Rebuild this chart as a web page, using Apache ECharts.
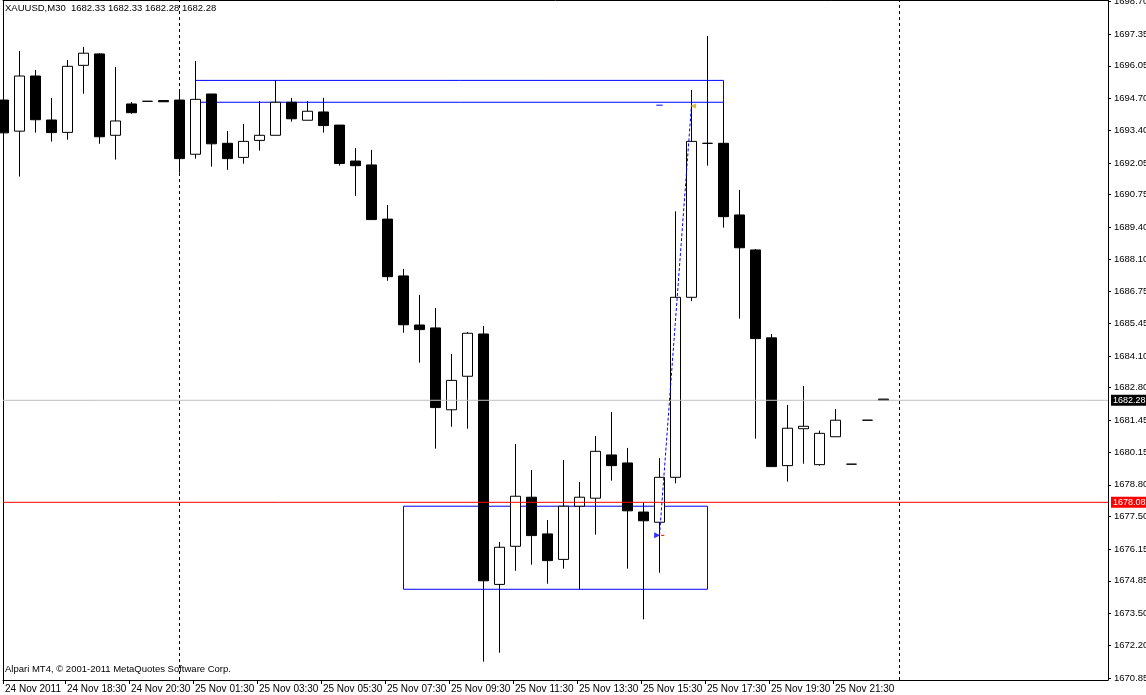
<!DOCTYPE html>
<html>
<head>
<meta charset="utf-8">
<script src="https://cdn.jsdelivr.net/npm/echarts@6/dist/echarts.min.js"></script>
<style>
html,body{margin:0;padding:0;background:#fff;}
#c{width:1146px;height:695px;}
</style>
</head>
<body>
<div id="c"></div>
<script>
// ---- data (XAUUSD M30) ----
const opens = [1694.64,1693.36,1695.63,1693.82,1693.31,1696.07,1696.54,1693.19,1694.48,1694.59,
  1694.62,1694.64,1692.41,1694.89,1692.86,1692.28,1692.98,1693.19,1694.55,1693.81,
  1694.15,1693.61,1692.13,1691.97,1689.74,1687.40,1685.38,1685.26,1681.89,1683.27,
  1685.01,1674.70,1676.27,1678.29,1676.78,1675.73,1677.92,1678.25,1680.03,1679.70,
  1677.68,1677.26,1679.11,1686.52,1692.86,1692.86,1689.91,1688.47,1684.85,1679.59,
  1681.11,1679.63,1680.78,1679.65,1681.46,1682.33];
const closes = [1693.29,1695.63,1693.83,1693.30,1696.03,1696.57,1693.13,1693.78,1694.12,1694.59,
  1694.57,1692.23,1694.67,1692.84,1692.23,1692.94,1693.19,1694.55,1693.87,1694.18,
  1693.59,1692.03,1691.94,1689.72,1687.37,1685.39,1685.19,1681.98,1683.10,1685.04,
  1674.85,1676.23,1678.33,1676.71,1675.68,1677.92,1678.29,1680.18,1679.59,1677.73,
  1677.32,1679.11,1686.52,1692.94,1692.86,1689.84,1688.56,1684.82,1679.55,1681.13,
  1681.21,1680.92,1681.46,1679.65,1681.46,1682.28];
const lows = [1693.04,1691.49,1693.30,1692.93,1693.01,1694.90,1692.84,1692.19,1694.08,1694.59,
  1694.57,1691.65,1692.23,1691.90,1691.77,1692.02,1692.56,1693.19,1693.75,1693.81,
  1693.30,1691.94,1690.70,1689.72,1687.20,1685.06,1683.83,1680.29,1681.19,1681.11,
  1671.52,1671.89,1675.26,1675.51,1674.73,1675.35,1674.50,1676.75,1678.97,1675.35,
  1673.26,1675.18,1678.86,1686.36,1691.94,1689.39,1685.64,1680.70,1679.55,1678.93,
  1679.67,1679.59,1680.78,1679.65,1681.46,1682.28];
const highs = [1695.22,1696.66,1695.88,1694.73,1696.29,1696.83,1696.57,1696.00,1694.56,1694.59,
  1694.62,1694.97,1696.25,1694.89,1693.37,1693.66,1694.60,1695.45,1694.73,1694.60,
  1694.73,1693.61,1692.66,1692.59,1690.32,1687.69,1686.62,1686.08,1684.19,1685.09,
  1685.34,1676.45,1680.48,1679.41,1677.35,1679.82,1678.92,1680.81,1681.80,1680.32,
  1678.08,1679.90,1690.06,1695.06,1697.28,1694.55,1690.94,1688.51,1685.01,1682.09,
  1682.87,1681.03,1681.92,1679.65,1681.46,1682.33];

const tickBars = [0,4,8,12,16,20,24,28,32,36,40,44,48,52];
const tickLabels = ['24 Nov 2011','24 Nov 18:30','24 Nov 20:30','25 Nov 01:30','25 Nov 03:30',
  '25 Nov 05:30','25 Nov 07:30','25 Nov 09:30','25 Nov 11:30','25 Nov 13:30',
  '25 Nov 15:30','25 Nov 17:30','25 Nov 19:30','25 Nov 21:30'];
const priceTicks = [1698.70,1697.35,1696.05,1694.70,1693.40,1692.05,1690.75,1689.40,1688.10,
  1686.75,1685.45,1684.10,1682.80,1681.45,1680.15,1678.80,1677.50,1676.15,1674.85,
  1673.50,1672.20,1670.85];

const bidPrice = 1682.28;
const levelPrice = 1678.08;
const separators = [11, 56];
const upperBox = [[12, 1695.45], [45, 1694.55]];
const lowerBox = [[25, 1677.92], [44, 1674.50]];
const tradeLine = [[41, 1676.72], [43, 1694.44]];
const blueDash = [[40.8, 1694.43], [41.2, 1694.43]];
const redDash = [[41.1, 1676.72], [41.3, 1676.72]];
const openArrow = [[40.85, 1676.72]];
const closeArrow = [[43.1, 1694.40]];
const titleText = 'XAUUSD,M30  1682.33 1682.33 1682.28 1682.28';
const copyText = 'Alpari MT4, \u00a9 2001-2011 MetaQuotes Software Corp.';

// ---- chart ----
const X0 = -0.03125;
const XMAX = X0 + 1105 / 16;
const YMIN = 1670.765, YMAX = 1698.76;
const FONT = 'Liberation Sans';
const candles = opens.map((o, i) => [i, o, closes[i], lows[i], highs[i]]);
const tickPos = tickBars.map(b => Math.max(b - 0.16, X0 + 0.001));

function priceLine(price, color, boxColor) {
  return {
    type: 'line', data: [[X0, price], [XMAX, price]], symbol: 'none', silent: true, z: 4,
    lineStyle: {color: color, width: 1, type: 'solid'},
    endLabel: {show: true, formatter: price.toFixed(2), distance: 3, backgroundColor: boxColor,
      color: '#fff', fontSize: 9, fontFamily: FONT, padding: [1, 4, 1, 2], lineHeight: 9}
  };
}

const chart = echarts.init(document.getElementById('c'), null, {renderer: 'canvas'});
const hidden = {axisLabel: {show: false}, axisTick: {show: false}, splitLine: {show: false}};
chart.setOption({
  animation: false,
  backgroundColor: '#ffffff',
  grid: {left: 3, right: 38, top: 0, bottom: 15, outerBoundsMode: 'none', containLabel: false},
  xAxis: [{
    type: 'value', min: X0, max: XMAX, position: 'bottom',
    axisLine: {show: true, onZero: false, lineStyle: {color: '#000', width: 1}},
    splitLine: {show: false},
    axisTick: {show: true, length: 4, customValues: tickPos, lineStyle: {color: '#000'}},
    axisLabel: {
      customValues: tickPos,
      formatter: v => tickLabels[tickBars.indexOf(Math.round(v))] || '',
      align: 'left', padding: [0, 0, 0, 2], margin: 4,
      fontSize: 10, fontFamily: FONT, color: '#000'
    }
  }, Object.assign({
    type: 'value', min: X0, max: XMAX, position: 'top',
    axisLine: {show: true, onZero: false, lineStyle: {color: '#000', width: 1}}
  }, hidden)],
  yAxis: [{
    type: 'value', min: YMIN, max: YMAX, position: 'right',
    axisLine: {show: true, onZero: false, lineStyle: {color: '#000', width: 1}},
    splitLine: {show: false},
    axisTick: {show: true, length: 3, customValues: priceTicks, lineStyle: {color: '#000'}},
    axisLabel: {
      customValues: priceTicks, formatter: v => v.toFixed(2), margin: 6,
      fontSize: 9.5, fontFamily: FONT, color: '#000'
    }
  }, Object.assign({
    type: 'value', min: YMIN, max: YMAX, position: 'left',
    axisLine: {show: true, onZero: false, lineStyle: {color: '#000', width: 1}}
  }, hidden)],
  graphic: [
    {type: 'text', left: 5, top: 3, z: 100, style: {text: titleText, font: '9.5px "Liberation Sans"', fill: '#000'}},
    {type: 'text', left: 5, top: 664, z: 100, style: {text: copyText, font: '9.5px "Liberation Sans"', fill: '#000'}}
  ],
  series: [{
    type: 'candlestick',
    data: candles,
    encode: {x: 0, y: [1, 2, 3, 4]},
    barWidth: 10,
    clip: true,
    z: 3,
    itemStyle: {color: '#ffffff', color0: '#000000', borderColor: '#000000', borderColor0: '#000000', borderColorDoji: '#000000', borderWidth: 1},
    emphasis: {disabled: true},
    markLine: {
      symbol: ['none', 'none'], silent: true, animation: false,
      data: separators.map(s => ({xAxis: s, lineStyle: {color: '#000', type: [3, 3], width: 1}, label: {show: false}}))
    },
    markArea: {
      silent: true,
      itemStyle: {color: 'rgba(0,0,0,0)', borderColor: '#0000ff', borderWidth: 1},
      data: [
        [{coord: upperBox[0]}, {coord: upperBox[1]}],
        [{coord: lowerBox[0]}, {coord: lowerBox[1]}]
      ]
    }
  },
  priceLine(bidPrice, '#c0c0c0', '#000000'),
  priceLine(levelPrice, '#ff0000', '#ff0000'),
  {
    type: 'line', data: tradeLine, symbol: 'none', silent: true, z: 5,
    lineStyle: {color: '#0000ff', type: [3, 2], width: 1}
  }, {
    type: 'line', data: blueDash, symbol: 'none', silent: true, z: 5,
    lineStyle: {color: '#0000ff', width: 1}
  }, {
    type: 'line', data: redDash, symbol: 'none', silent: true, z: 5,
    lineStyle: {color: '#ff0000', width: 1}
  }, {
    type: 'scatter', data: openArrow, symbol: 'triangle', symbolSize: [6, 6], symbolRotate: -90, silent: true, z: 6,
    itemStyle: {color: '#0000ff'}
  }, {
    type: 'scatter', data: closeArrow, symbol: 'triangle', symbolSize: [5, 6], symbolRotate: 90, silent: true, z: 6,
    itemStyle: {color: '#daa520'}
  }]
});
</script>
</body>
</html>
